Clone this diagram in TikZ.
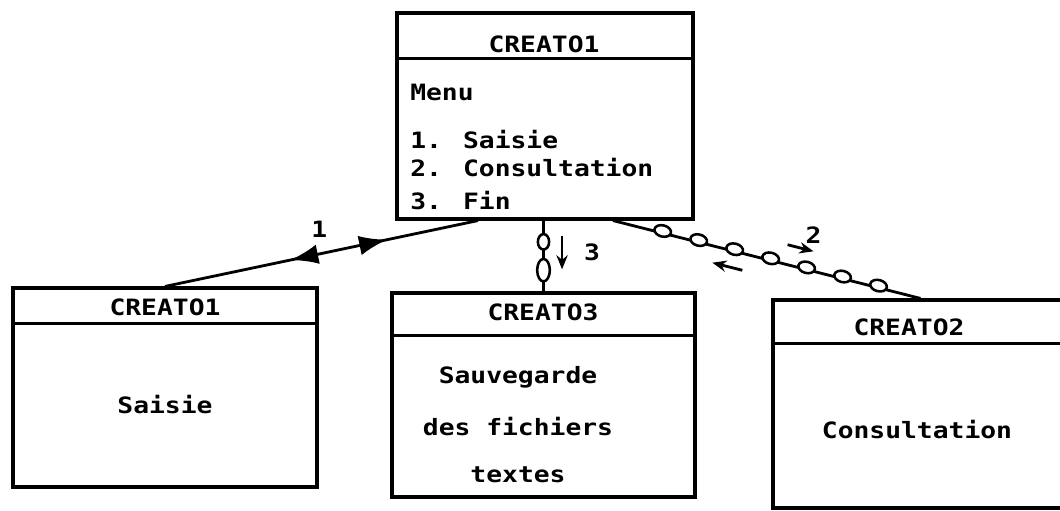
\documentclass[tikz,border=0pt]{standalone}
\usepackage{fontspec}
\usepackage{tikz}
\usetikzlibrary{arrows.meta,decorations.markings}
\newfontfamily\dotfont[FakeStretch=1.17]{DejaVu Sans Mono Bold}

\begin{document}
\begin{tikzpicture}[x=0.025cm,y=-0.025cm,font=\dotfont\fontsize{16}{19}\selectfont,
    box/.style={draw,line width=2.2pt,inner sep=0pt},
    sep/.style={line width=1.7pt},
    txt/.style={inner sep=0pt},
    link/.style={line width=2pt,postaction={decorate}},
    small arrow/.style={line width=2pt,-{Stealth[length=10pt,width=8pt]}},
    loop/.style={line width=1.8pt,fill=white}]
  \useasboundingbox (0,0) rectangle (1060,511);

  % main menu
  \node[box,minimum width=7.4cm,minimum height=5.15cm] (menu) at (545,116) {};
  \node[txt] (menutitle) at (544,44) {CREATO1};
  \draw[sep] ([shift={(0,47)}]menu.north west) -- ([shift={(0,47)}]menu.north east);
  \node[txt,anchor=west] (m0) at (410,92) {Menu};
  \node[txt,anchor=west] (m1) at (410,140) {1. Saisie};
  \node[txt,anchor=west] (m2) at (410,168) {2. Consultation};
  \node[txt,anchor=west] (m3) at (410,201) {3. Fin};

  % saisie
  \node[box,minimum width=7.6cm,minimum height=4.975cm] (saisie) at (165,387.5) {};
  \node[txt] (saisietitle) at (165,307) {CREATO1};
  \draw[sep] ([shift={(0,37)}]saisie.north west) -- ([shift={(0,37)}]saisie.north east);
  \node[txt] (saisiebody) at (165,405) {Saisie};

  % sauvegarde
  \node[box,minimum width=7.575cm,minimum height=5.1cm] (sauve) at (543.5,395) {};
  \node[txt] (sauvetitle) at (543,312) {CREATO3};
  \draw[sep] ([shift={(0,44)}]sauve.north west) -- ([shift={(0,44)}]sauve.north east);
  \node[txt] (s1) at (518,377) {Sauvegarde};
  \node[txt] (s2) at (518,427) {des fichiers};
  \node[txt] (s3) at (518,475) {textes};

  % consultation
  \node[box,minimum width=7.375cm,minimum height=5.2cm] (consult) at (920.5,404) {};
  \node[txt] (consulttitle) at (909,327) {CREATO2};
  \draw[sep] ([shift={(0,45)}]consult.north west) -- ([shift={(0,45)}]consult.north east);
  \node[txt] (consultbody) at (917,430) {Consultation};

  % links
  \draw[link,decoration={markings,
      mark=at position 0.40 with {\arrowreversed{Latex[length=20pt,width=14pt]}},
      mark=at position 0.71 with {\arrow{Latex[length=20pt,width=14pt]}},
      mark=at position 0.5 with {\node[txt] at (2pt,17pt) {1};}}]
    (saisie.north) -- ([xshift=-1.675cm]menu.south);

  \draw[link,decoration={markings,
      mark=at position 0.3 with {\draw[loop] (0,0) ellipse (5.5pt and 4pt);},
      mark=at position 0.7 with {\draw[loop] (0,0) ellipse (8pt and 4.5pt);},
      mark=at position 0.45 with {\draw[small arrow] (-12pt,13.2pt) -- (12pt,13.2pt);
        \node[txt] at (0,34.5pt) {3};}}]
    (sauve.north |- menu.south) -- (sauve.north);

  \draw[link,decoration={markings,
      mark=between positions 0.16 and 0.87 step 0.117 with {\draw[loop] (0,1.5pt) ellipse (6pt and 4pt);},
      mark=at position 0.61 with {\draw[small arrow] (-13pt,13.8pt) -- (6pt,13.8pt);
        \node[txt] at (3.2pt,25pt) {2};},
      mark=at position 0.385 with {\draw[small arrow] (11pt,-11.7pt) -- (-11pt,-11.7pt);}}]
    ([xshift=1.7cm]menu.south) -- (consult.north);
\end{tikzpicture}
\end{document}
